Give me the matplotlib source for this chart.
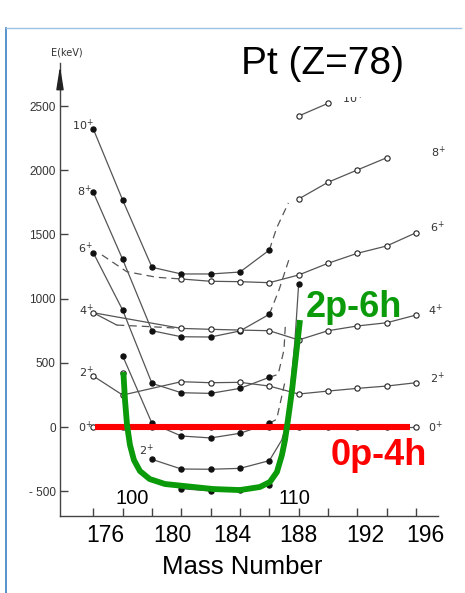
import matplotlib
matplotlib.use("Agg")
import matplotlib.pyplot as plt
from matplotlib.patches import Rectangle
from matplotlib.lines import Line2D

# ---- data (mass number, energy in keV) ----
masses = [174, 176, 178, 180, 182, 184, 186, 188, 190, 192, 194, 196]

# filled circles (intruder / deformed states)
i10_A = [174, 176, 178, 180, 182, 184, 186]
i10_E = [2321, 1768, 1244, 1192, 1192, 1207, 1378]
i8_A = [174, 176, 178, 180, 182, 184, 186]
i8_E = [1828, 1306, 750, 703, 701, 748, 878]
i6_A = [174, 176, 178, 180, 182, 184, 186]
i6_E = [1357, 911, 340, 267, 262, 301, 387]
i4_A = [176, 178, 180, 182, 184, 186]
i4_E = [555, 29, -70, -85, -49, 29]
i2_A = [178, 180, 182, 184, 186]
i2_E = [-252, -327, -329, -322, -262]
i0_A = [180, 182, 184, 186]
i0_E = [-480, -498, -491, -452]

# dashed extrapolations beyond A=186
d10_A = [186, 186.5, 187.3]
d10_E = [1378, 1550, 1745]
d8_A = [186, 186.66, 187.37]
d8_E = [878, 1067, 1316]
d6_A = [186, 186.6, 187.0, 187.1]
d6_E = [387, 410, 600, 808]
d4_A = [186, 186.5, 187.1]
d4_E = [29, 60, 370]

# solid rise of the lowest 2+ curve up to A=188
r2_A = [186, 186.85, 187.2, 187.41, 187.75, 188.0]
r2_E = [-262, -101, 50, 262, 678, 1113]

# open circles (normal states)
g0_E = [0] * len(masses)
g2_A = [174, 176, 180, 182, 184, 186, 188, 190, 192, 194, 196]
g2_E = [397, 249, 353, 345, 348, 319, 257, 280, 301, 319, 345]
g2x_A = [176]
g2x_E = [423]
g4_A = [174, 180, 182, 184, 186, 188, 190, 192, 194, 196]
g4_E = [890, 768, 761, 755, 750, 678, 750, 787, 812, 872]
g4s_A = [174, 175.6]
g4s_E = [890, 794]
g4d_A = [175.6, 178.0, 180]
g4d_E = [794, 781, 768]
g6_A = [180, 182, 184, 186, 188, 190, 192, 194, 196]
g6_E = [1153, 1135, 1132, 1124, 1184, 1275, 1353, 1410, 1513]
g6d_A = [174.59, 176.28, 178.32, 180]
g6d_E = [1340, 1210, 1166, 1153]
g8_A = [188, 190, 192, 194]
g8_E = [1776, 1906, 2002, 2097]
g10_A = [188, 190]
g10_E = [2422, 2521]

# overlays (hand-drawn U for 2p-6h, straight bar for 0p-4h)
green_A = [176.05, 176.16, 176.30, 176.50, 176.77, 177.18, 177.84, 178.89,
           182.16, 184.0, 185.36, 186.04, 186.52, 186.86, 187.07, 187.27,
           187.55, 187.82, 188.09]
green_E = [428, 210, 16, -140, -257, -343, -405, -444,
           -483, -491, -467, -428, -350, -218, -101, 55,
           288, 561, 833]
red_A = [174.12, 195.6]
red_E = [0, 0]

yticks = [-500, 0, 500, 1000, 1500, 2000, 2500]
ytick_labels = ['- 500', '0', '500', '1000', '1500', '2000', '2500']
xticks = masses
xlabels = ['176', '180', '184', '188', '192', '196']
xlabel_pos = [174.8, 179.36, 183.45, 187.98, 192.54, 196.61]

W, H = 465, 593
LINE = '#555555'
DOT = '#111111'
SCAN = '#333333'


def fx(px):
    return px / W


def fy(py):
    return 1 - py / H


fig = plt.figure(figsize=(W / 100, H / 100), dpi=100)
fig.patch.set_facecolor('white')
ax = fig.add_axes([fx(60), fy(516), fx(438) - fx(60), fy(63) - fy(516)])
ax.set_xlim(171.73, 197.50)
ax.set_ylim(-693, 2835)
ax.patch.set_alpha(0)

for s in ['top', 'right']:
    ax.spines[s].set_visible(False)
for s in ['left', 'bottom']:
    ax.spines[s].set_color('#444444')
    ax.spines[s].set_linewidth(1.0)

ax.set_yticks(yticks)
ax.set_yticklabels(ytick_labels, fontsize=8.5, color=SCAN,
                   family='Liberation Sans')
ax.set_xticks(xticks)
ax.tick_params(axis='y', direction='in', length=6, width=1,
               color='#444444', pad=3)
ax.tick_params(axis='x', direction='in', length=6, width=1,
               color='#444444', labelbottom=False)

# arrow on top of the energy axis
ax.annotate('', xy=(0, 1.0), xytext=(0, 0.94), xycoords='axes fraction',
            arrowprops=dict(arrowstyle='-|>,head_length=1.4,head_width=0.22',
                            color='#222222', lw=1))
ax.text(172.2, 2920, 'E(keV)', fontsize=7, color=SCAN, ha='center',
        va='center', clip_on=False, family='DejaVu Sans')


def filled(A, E):
    ax.plot(A, E, color=LINE, lw=0.9, zorder=2)
    ax.plot(A, E, ls='none', marker='o', ms=3.6, color=DOT, zorder=3)


def opened(A, E, line=True):
    if line:
        ax.plot(A, E, color=LINE, lw=0.9, zorder=2)
    ax.plot(A, E, ls='none', marker='o', ms=3.8, mfc='white', mec='#222222',
            mew=0.8, zorder=3)


def dashed(A, E):
    ax.plot(A, E, color=LINE, lw=0.9, ls=(0, (6, 4)), zorder=2)


filled(i10_A, i10_E)
filled(i8_A, i8_E)
filled(i6_A, i6_E)
filled(i4_A, i4_E)
filled(i2_A, i2_E)
filled(i0_A, i0_E)
for a, e in [(d10_A, d10_E), (d8_A, d8_E), (d6_A, d6_E), (d4_A, d4_E)]:
    dashed(a, e)
ax.plot(r2_A, r2_E, color=LINE, lw=0.9, zorder=2)
ax.plot(r2_A[-1:], r2_E[-1:], ls='none', marker='o', ms=3.6, color=DOT,
        zorder=3)

opened(masses, g0_E)
opened(g2_A, g2_E)
opened(g2x_A, g2x_E, line=False)
ax.plot(g4s_A, g4s_E, color=LINE, lw=0.9, zorder=2)
dashed(g4d_A, g4d_E)
opened(g4_A, g4_E)
dashed(g6d_A, g6d_E)
opened(g6_A, g6_E)
opened(g8_A, g8_E)
opened(g10_A, g10_E)

# spin labels
left_labels = [('10', 173.28, 2352), ('8', 173.37, 1838), ('6', 173.43, 1394),
               ('4', 173.5, 911), ('2', 173.5, 428), ('0', 173.43, 0),
               ('2', 177.64, -179)]
right_labels = [('0', 197.29, 0), ('2', 197.43, 382), ('4', 197.29, 911),
                ('6', 197.43, 1558), ('8', 197.5, 2142), ('10', 191.7, 2562)]
for txt, a, e in left_labels + right_labels:
    ax.text(a, e, txt + '$^{+}$', fontsize=8, color=SCAN, ha='center',
            va='center', clip_on=False, family='DejaVu Sans')

# configuration overlays
ax.plot(red_A, red_E, color='#ff0000', lw=4.4, solid_capstyle='butt',
        zorder=6)
ax.plot(green_A, green_E, color='#0a9a0a', lw=4.2, solid_capstyle='butt',
        solid_joinstyle='round', zorder=7)

# white box behind the title
fig.add_artist(Rectangle((fx(228), fy(97)), fx(428) - fx(228),
                         fy(28) - fy(97), transform=fig.transFigure,
                         facecolor='white', edgecolor='none', zorder=5))
fig.text(fx(241), fy(73.5), 'Pt (Z=78)', fontsize=28, family='Liberation Sans',
         ha='left', va='baseline', color='black', zorder=6)
fig.text(fx(306), fy(317), '2p-6h', fontsize=26, family='Liberation Sans',
         weight='bold', ha='left', va='baseline', color='#0a9a0a', zorder=8)
fig.text(fx(331), fy(465), '0p-4h', fontsize=26, family='Liberation Sans',
         weight='bold', ha='left', va='baseline', color='#ff0000', zorder=8)
fig.text(fx(131.7), fy(504), '100', fontsize=14.5, family='Liberation Sans',
         ha='center', va='baseline', color='black', zorder=8)
fig.text(fx(294), fy(504), '110', fontsize=14.5, family='Liberation Sans',
         ha='center', va='baseline', color='black', zorder=8)

for lab, pos in zip(xlabels, xlabel_pos):
    ax.text(pos, -841, lab, fontsize=16.5, family='Liberation Sans',
            ha='center', va='center', color='black', clip_on=False)
fig.text(fx(242.5), fy(574.3), 'Mass Number', fontsize=18.5,
         family='Liberation Sans', ha='center', va='baseline', color='black')

# slide frame
fig.add_artist(Line2D([fx(6), fx(6)], [fy(28), 0], transform=fig.transFigure,
                      color='#3b80c4', lw=1.2, zorder=10))
fig.add_artist(Line2D([fx(6), fx(461)], [fy(28), fy(28)],
                      transform=fig.transFigure, color='#9fc1e3', lw=1.0,
                      zorder=10))

fig.savefig('out.png', dpi=100)
